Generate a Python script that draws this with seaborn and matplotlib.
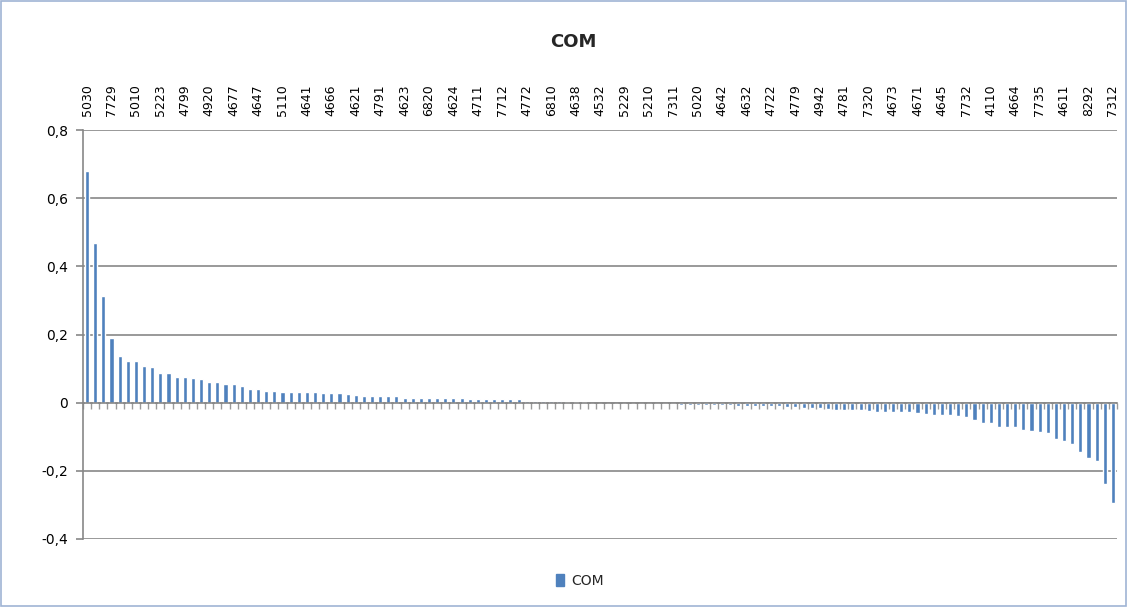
import matplotlib
matplotlib.use("Agg")
import matplotlib.pyplot as plt
from matplotlib.patches import Patch, Rectangle
from matplotlib.ticker import FixedLocator, FuncFormatter
import seaborn as sns
import pandas as pd

# ---- data ----
series_name = "COM"
values = [
    0.680, 0.468, 0.312, 0.189, 0.137, 0.123, 0.123, 0.109, 0.104, 0.086,
    0.086, 0.076, 0.076, 0.071, 0.069, 0.061, 0.060, 0.055, 0.055, 0.050,
    0.040, 0.040, 0.035, 0.035, 0.031, 0.031, 0.031, 0.031, 0.030, 0.029,
    0.029, 0.027, 0.025, 0.022, 0.020, 0.020, 0.020, 0.020, 0.020, 0.015,
    0.015, 0.015, 0.015, 0.015, 0.015, 0.015, 0.015, 0.010, 0.010, 0.010,
    0.010, 0.010, 0.010, 0.010, 0.006, 0.006, 0.006, 0.006, 0.006, 0.003,
    0.001, 0.001, 0.000, 0.000, -0.001, -0.001, -0.002, -0.002, -0.004, -0.005,
    -0.005, -0.005, -0.005, -0.006, -0.006, -0.006, -0.007, -0.007, -0.008, -0.008,
    -0.009, -0.010, -0.010, -0.010, -0.011, -0.011, -0.012, -0.013, -0.015, -0.015,
    -0.016, -0.020, -0.021, -0.022, -0.022, -0.022, -0.023, -0.026, -0.026, -0.027,
    -0.027, -0.027, -0.031, -0.032, -0.036, -0.036, -0.037, -0.038, -0.042, -0.050,
    -0.060, -0.060, -0.070, -0.070, -0.071, -0.080, -0.083, -0.087, -0.088, -0.107,
    -0.112, -0.122, -0.144, -0.163, -0.172, -0.238, -0.293,
]
# every third category label, as shown on the top axis
tick_labels = [
    "5030", "7729", "5010", "5223", "4799", "4920", "4677", "4647", "5110", "4641",
    "4666", "4621", "4791", "4623", "6820", "4624", "4711", "7712", "4772", "6810",
    "4638", "4532", "5229", "5210", "7311", "5020", "4642", "4632", "4722", "4779",
    "4942", "4781", "7320", "4673", "4671", "4645", "7732", "4110", "4664", "7735",
    "4611", "8292", "7312",
]
y_ticks = [-0.4, -0.2, 0.0, 0.2, 0.4, 0.6, 0.8]

BLUE = "#4F81BD"
GRID = "#878787"

sns.set_theme(style="white")
plt.rcParams["font.family"] = ["DejaVu Sans"]

df = pd.DataFrame({"pos": list(range(len(values))), "val": values})

fig = plt.figure(figsize=(11.28, 6.07), dpi=100)
ax = fig.add_axes([83 / 1128, 1 - 539 / 607, (1117 - 83) / 1128, (539 - 130) / 607])
ax.set_axisbelow(True)

sns.barplot(data=df, x="pos", y="val", color=BLUE, saturation=1, width=0.5, ax=ax, zorder=3)

n = len(values)
ax.set_xlim(-0.5, n - 0.5)
ax.set_ylim(-0.4, 0.8)

# horizontal gridlines
ax.set_yticks(y_ticks)
ax.yaxis.set_major_formatter(FuncFormatter(lambda v, p: "0" if abs(v) < 1e-9 else f"{v:.1f}".replace(".", ",")))
ax.yaxis.grid(True, color=GRID, linewidth=1.2, zorder=0)
ax.xaxis.grid(False)
ax.tick_params(axis="y", which="major", direction="out", length=5, width=1.2, color=GRID,
               labelsize=10, labelcolor="black", pad=6, left=True)

# category axis at zero with tick marks between categories
ax.spines["bottom"].set_position(("data", 0))
ax.spines["bottom"].set_color(GRID)
ax.spines["bottom"].set_linewidth(1.2)
ax.spines["bottom"].set_zorder(4)
ax.spines["left"].set_color(GRID)
ax.spines["left"].set_linewidth(1.2)
ax.spines["top"].set_visible(False)
ax.spines["right"].set_visible(False)
ax.set_xticks([])
ax.xaxis.set_minor_locator(FixedLocator([i + 0.5 for i in range(-1, n)]))
ax.tick_params(axis="x", which="minor", direction="out", length=4, width=1.0, color="#9a9a9a", bottom=True)
ax.tick_params(axis="x", which="major", bottom=False, labelbottom=False)
ax.set_xlabel("")
ax.set_ylabel("")

# category labels at the top
sec = ax.secondary_xaxis("top")
sec.set_xticks(list(range(0, n, 3)))
sec.set_xticklabels(tick_labels, rotation=90, fontsize=9)
sec.tick_params(axis="x", length=0, pad=10, labelcolor="black")
sec.spines["top"].set_visible(False)

# title
fig.text(573 / 1128, 1 - 42 / 607, "COM", ha="center", va="center", fontsize=13, fontweight="bold")

# legend
fig.legend(handles=[Patch(facecolor=BLUE, edgecolor=BLUE, label=series_name)],
           loc="center", bbox_to_anchor=(580 / 1128, 1 - 581 / 607), frameon=False,
           handlelength=0.6, handleheight=0.9, handletextpad=0.5, fontsize=10)

# chart border
fig.patches.append(Rectangle((0.001, 0.002), 0.997, 0.996, transform=fig.transFigure,
                             fill=False, edgecolor="#9fb4d4", linewidth=1.2))

fig.savefig("out.png", dpi=100)
